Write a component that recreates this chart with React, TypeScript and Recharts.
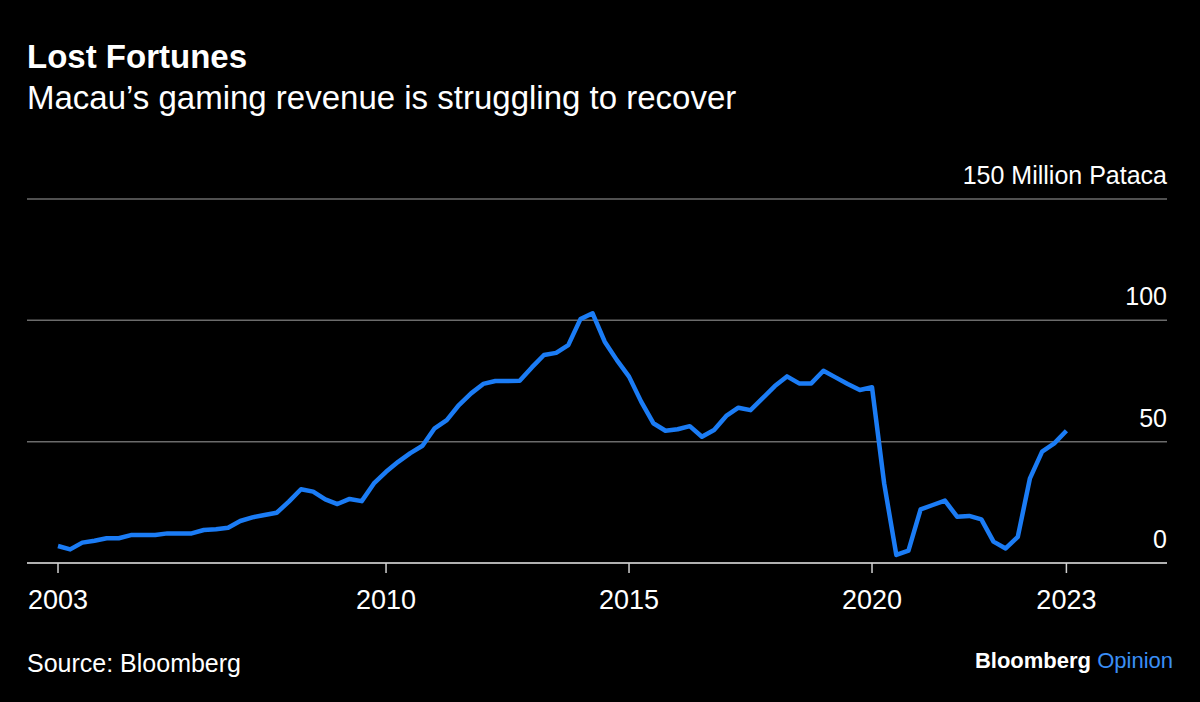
import { CartesianGrid, Line, LineChart, XAxis, YAxis } from 'recharts';

// Macau quarterly gaming revenue
const quarters = [
  '2003Q1', '2003Q2', '2003Q3', '2003Q4',
  '2004Q1', '2004Q2', '2004Q3', '2004Q4',
  '2005Q1', '2005Q2', '2005Q3', '2005Q4',
  '2006Q1', '2006Q2', '2006Q3', '2006Q4',
  '2007Q1', '2007Q2', '2007Q3', '2007Q4',
  '2008Q1', '2008Q2', '2008Q3', '2008Q4',
  '2009Q1', '2009Q2', '2009Q3', '2009Q4',
  '2010Q1', '2010Q2', '2010Q3', '2010Q4',
  '2011Q1', '2011Q2', '2011Q3', '2011Q4',
  '2012Q1', '2012Q2', '2012Q3', '2012Q4',
  '2013Q1', '2013Q2', '2013Q3', '2013Q4',
  '2014Q1', '2014Q2', '2014Q3', '2014Q4',
  '2015Q1', '2015Q2', '2015Q3', '2015Q4',
  '2016Q1', '2016Q2', '2016Q3', '2016Q4',
  '2017Q1', '2017Q2', '2017Q3', '2017Q4',
  '2018Q1', '2018Q2', '2018Q3', '2018Q4',
  '2019Q1', '2019Q2', '2019Q3', '2019Q4',
  '2020Q1', '2020Q2', '2020Q3', '2020Q4',
  '2021Q1', '2021Q2', '2021Q3', '2021Q4',
  '2022Q1', '2022Q2', '2022Q3', '2022Q4',
  '2023Q1', '2023Q2', '2023Q3', '2023Q4',
];

const revenue = [
  7.0, 5.6, 8.4, 9.2,
  10.2, 10.2, 11.5, 11.5,
  11.5, 12.2, 12.2, 12.2,
  13.6, 13.9, 14.5, 17.3,
  18.8, 19.8, 20.7, 25.3,
  30.4, 29.4, 26.2, 24.3,
  26.4, 25.5, 32.8, 37.6,
  41.7, 45.3, 48.3, 55.5,
  58.9, 65.1, 69.9, 73.8,
  75.0, 75.0, 75.1, 80.6,
  85.7, 86.6, 89.8, 100.5,
  102.9, 91.2, 83.6, 76.8,
  66.5, 57.6, 54.5, 55.1,
  56.4, 52.0, 54.8, 60.6,
  64.0, 63.0, 67.9, 72.9,
  76.9, 74.0, 74.0, 79.2,
  76.5, 73.8, 71.3, 72.4,
  32.8, 3.3, 5.1, 22.1,
  23.9, 25.7, 19.1, 19.4,
  18.0, 8.8, 6.0, 10.8,
  34.9, 45.9, 49.3, 54.5,
];

// x ticks sit at quarter-end positions (first/last tick at the data ends)
const xTicks = [2003.25, 2010, 2015, 2020, 2024];
const xTickLabels = ['2003', '2010', '2015', '2020', '2023'];
const yTicks = [0, 50, 100, 150];
const yTickLabels = ['0', '50', '100', '150 Million Pataca'];

// quarter-end as a decimal year
const data = quarters.map((q, i) => ({
  quarter: q,
  t: Number(q.slice(0, 4)) + Number(q.slice(5)) / 4,
  revenue: revenue[i],
}));

const BLUE = '#1b7cf5';

function renderYTick(props: any) {
  const { x, y, payload } = props;
  const label = yTickLabels[yTicks.indexOf(payload.value)];
  return (
    <text key={payload.value} x={x} y={y - 15} textAnchor="end" fill="#fff" fontSize={25}>
      {label}
    </text>
  );
}

export default function App() {
  return (
    <div
      style={{
        position: 'absolute',
        left: 0,
        top: 0,
        width: 1200,
        height: 702,
        background: '#000',
        color: '#fff',
        fontFamily: '"Liberation Sans", Arial, sans-serif',
        overflow: 'hidden',
      }}
    >
      <div style={{ position: 'absolute', left: 27, top: 40, fontSize: 33, lineHeight: '33px', fontWeight: 700 }}>
        Lost Fortunes
      </div>
      <div style={{ position: 'absolute', left: 27, top: 81, fontSize: 33, lineHeight: '33px' }}>
        Macau’s gaming revenue is struggling to recover
      </div>

      <div style={{ position: 'absolute', left: 0, top: 0 }}>
        <LineChart width={1200} height={702} data={data} margin={{ top: 199, right: 32, bottom: 99, left: 27 }}>
          <CartesianGrid vertical={false} stroke="#6b6b6b" strokeWidth={1.5} />
          <XAxis
            type="number"
            dataKey="t"
            domain={[2002.612, 2026.07]}
            allowDataOverflow
            ticks={xTicks}
            tickFormatter={(v: number) => xTickLabels[xTicks.indexOf(v)]}
            height={40}
            axisLine={{ stroke: '#d0d0d0', strokeWidth: 1.5 }}
            tickLine={{ stroke: '#d0d0d0', strokeWidth: 1.5 }}
            tickSize={10}
            tickMargin={17}
            tick={{ fill: '#fff', fontSize: 27 }}
          />
          <YAxis
            orientation="right"
            width={1}
            domain={[0, 150]}
            ticks={yTicks}
            axisLine={false}
            tickLine={false}
            tickSize={0}
            tickMargin={0}
            tick={renderYTick}
          />
          <Line
            type="linear"
            dataKey="revenue"
            stroke={BLUE}
            strokeWidth={4.5}
            strokeLinejoin="round"
            dot={false}
            activeDot={false}
            isAnimationActive={false}
          />
        </LineChart>
      </div>

      <div style={{ position: 'absolute', left: 27, top: 651, fontSize: 25, lineHeight: '25px' }}>
        Source: Bloomberg
      </div>
      <div style={{ position: 'absolute', right: 27, top: 650, fontSize: 22, lineHeight: '22px' }}>
        <span style={{ fontWeight: 700 }}>Bloomberg</span>{' '}
        <span style={{ color: '#3a8ef5' }}>Opinion</span>
      </div>
    </div>
  );
}
